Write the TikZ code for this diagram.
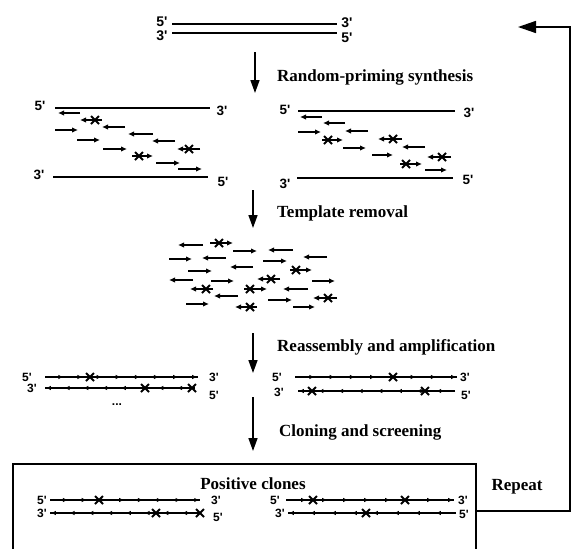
\documentclass[tikz,border=0pt]{standalone}
\usepackage{fontspec}
\setmainfont{Liberation Serif}
\newfontfamily\labfont{Liberation Sans}
\usetikzlibrary{arrows.meta, decorations.markings}
\tikzset{
  steplab/.style={font=\fontsize{17}{20}\selectfont\bfseries, inner sep=0pt, anchor=west},
  endlab/.style={font=\labfont\fontsize{13.5}{15}\selectfont\bfseries, inner sep=0pt},
  endlabs/.style={font=\labfont\fontsize{12}{14}\selectfont\bfseries, inner sep=0pt},
  strand/.style={line width=2.5pt},
  steparrow/.style={line width=1.6pt, -{Triangle[length=13pt,width=9pt]}},
  frag/.style={line width=2pt, -{Latex[length=6pt,width=5.5pt]}},
  mut/.style={line width=1.8pt},
  joined/.style={line width=1.6pt,
    decoration={markings, mark=between positions 0.12 and 1 step 0.125 with {\arrow{Latex[length=5pt,width=4.5pt]}}},
    postaction={decorate}},
}
\begin{document}
\begin{tikzpicture}[x=1pt,y=-1pt]
  \clip (0,0) rectangle (574,549);
  \fill[white] (0,0) rectangle (574,549);
  % parent duplex
  \draw[strand] (172,24) -- (337,24);
  \draw[strand] (172,33) -- (337,33);
  \node[endlab, font=\labfont\fontsize{14}{16}\selectfont\bfseries] (d5a) at (162,22) {5'};
  \node[endlab, font=\labfont\fontsize{14}{16}\selectfont\bfseries] (d3a) at (162,36) {3'};
  \node[endlab, font=\labfont\fontsize{14}{16}\selectfont\bfseries] (d3b) at (347,23) {3'};
  \node[endlab, font=\labfont\fontsize{14}{16}\selectfont\bfseries] (d5b) at (347,38) {5'};
  % step 1
  \coordinate (s1a) at (255,52);
  \coordinate (s1b) at (255,93);
  \draw[steparrow] (s1a) -- (s1b);
  \node[steplab] (rps) at (277,77) {Random-priming synthesis};
  % left template
  \draw[strand] (55,108) -- (210,108);
  \draw[strand] (53,177) -- (208,177);
  \node[endlab] (l5a) at (40,106) {5'};
  \node[endlab] (l3a) at (222,111) {3'};
  \node[endlab] (l3b) at (39,175) {3'};
  \node[endlab] (l5b) at (223,182) {5'};
  \foreach \xa/\xb/\y in {80/58/113, 102/80/120, 125/102/127, 55/78/130, 153/128/134, 77/100/140,
      175/152/141, 103/127/149, 200/177/149, 132/153/156, 156/180/163, 178/202/169}
    \draw[frag] (\xa,\y) -- (\xb,\y);
  % right template
  \draw[strand] (298,111) -- (455,111);
  \draw[strand] (297,178) -- (453,178);
  \node[endlab] (r5a) at (285,110) {5'};
  \node[endlab] (r3a) at (469,113) {3'};
  \node[endlab] (r3b) at (285,184) {3'};
  \node[endlab] (r5b) at (468,180) {5'};
  \foreach \xa/\xb/\y in {322/300/117, 345/323/123, 298/321/132, 368/345/131, 322/343/140, 402/378/139,
      425/402/147, 343/366/148, 372/393/155, 451/427/157, 400/422/164, 425/447/170}
    \draw[frag] (\xa,\y) -- (\xb,\y);
  % step 2
  \coordinate (s2a) at (253,190);
  \coordinate (s2b) at (253,228);
  \draw[steparrow] (s2a) -- (s2b);
  \node[steplab] (tr) at (277,213) {Template removal};
  % free fragments
  \foreach \xa/\xb/\y in {203/178/245, 210/233/243, 233/257/251, 293/268/250, 327/303/257, 169/192/259,
      226/202/258, 263/287/261, 188/212/271, 253/230/267, 290/312/270, 193/169/280, 211/234/281,
      280/257/279, 312/335/281, 213/190/289, 238/214/296, 244/267/289, 308/283/289, 186/209/304,
      257/235/307, 268/292/300, 293/315/307, 337/313/298}
    \draw[frag] (\xa,\y) -- (\xb,\y);
  % step 3
  \coordinate (s3a) at (253,333);
  \coordinate (s3b) at (253,373);
  \draw[steparrow] (s3a) -- (s3b);
  \node[steplab] (raa) at (277,347) {Reassembly and amplification};
  % reassembled genes
  \draw[joined] (45,377) -- (198,377);
  \draw[joined] (195,388) -- (45,388);
  \draw[joined] (295,377) -- (457,377);
  \draw[joined] (455,391) -- (298,391);
  \node[endlabs] (a5a) at (27,377) {5'};
  \node[endlabs] (a3a) at (214,377) {3'};
  \node[endlabs] (a3b) at (32,388) {3'};
  \node[endlabs] (a5b) at (214,395) {5'};
  \node[endlabs] (b5a) at (277,377) {5'};
  \node[endlabs] (b3a) at (465,377) {3'};
  \node[endlabs] (b3b) at (279,392) {3'};
  \node[endlabs] (b5b) at (466,395) {5'};
  \node[endlabs] (dots) at (117,405) {...};
  % step 4
  \coordinate (s4a) at (253,397);
  \coordinate (s4b) at (253,451);
  \draw[steparrow] (s4a) -- (s4b);
  \node[steplab] (cs) at (279,432) {Cloning and screening};
  % positive clones
  \draw[line width=1.8pt] (13,464) rectangle (476,560);
  \node[steplab, anchor=center] (pc) at (253,484) {Positive clones};
  \draw[joined] (50,500) -- (200,500);
  \draw[joined] (200,513) -- (50,513);
  \draw[joined] (286,500) -- (454,500);
  \draw[joined] (456,513) -- (288,513);
  \node[endlabs] (c5a) at (42,500) {5'};
  \node[endlabs] (c3a) at (216,500) {3'};
  \node[endlabs] (c3b) at (42,513) {3'};
  \node[endlabs] (c5b) at (218,517) {5'};
  \node[endlabs] (e5a) at (275,500) {5'};
  \node[endlabs] (e3a) at (463,500) {3'};
  \node[endlabs] (e3b) at (280,513) {3'};
  \node[endlabs] (e5b) at (464,514) {5'};
  % mutations
  \foreach \x/\y in {95/120, 189/149, 139/156, 328/140, 393/139, 442/157, 406/164,
      219/243, 296/270, 271/279, 206/289, 250/289, 250/307, 328/298,
      90/377, 145/388, 192/388, 393/377, 312/391, 425/391,
      99/500, 156/513, 200/513, 313/500, 405/500, 366/513}
    \draw[mut] (\x-4,\y-4) -- (\x+4,\y+4) (\x-4,\y+4) -- (\x+4,\y-4);
  % repeat loop
  \coordinate (rp0) at (476,511);
  \coordinate (rp1) at (570,511);
  \coordinate (rp2) at (570,27);
  \coordinate (rp3) at (518,27);
  \draw[line width=1.5pt, -{Triangle[length=18pt,width=12pt]}] (rp0) -- (rp1) -- (rp2) -- (rp3);
  \node[steplab, anchor=center] (rep) at (517,487) {Repeat};
\end{tikzpicture}
\end{document}
